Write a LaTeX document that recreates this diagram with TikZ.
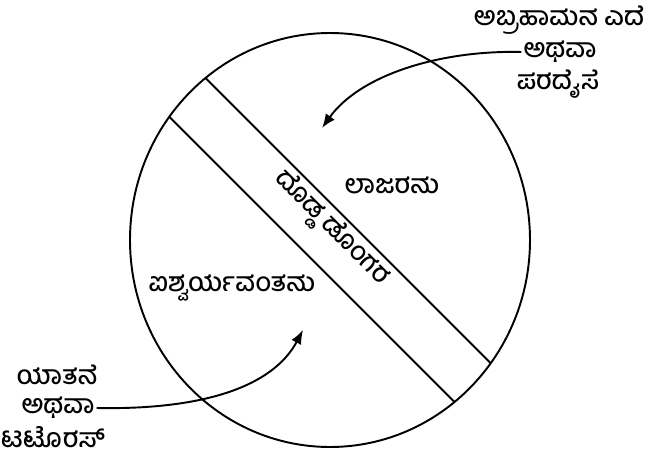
\documentclass[tikz,border=0pt]{standalone}
\usepackage{fontspec}
\newfontfamily\kannada[Script=Kannada]{Hind Mysuru Medium}
\usetikzlibrary{positioning,calc,arrows.meta}

\begin{document}
\begin{tikzpicture}[x=0.02cm, y=-0.02cm, >={Latex[length=2.8mm,width=2.2mm]},
  font=\kannada\fontsize{15}{18}\selectfont,
  outline/.style={line width=1.1pt},
  sidelabel/.style={inner sep=1pt, align=center},
  regionlabel/.style={inner sep=1pt}]
\useasboundingbox (0,0) rectangle (646,453);
\coordinate (c) at (330,240);
\draw[outline] (c) ellipse [x radius=200, y radius=207];
% the band across the circle
\begin{scope}
\clip (c) ellipse [x radius=200, y radius=207];
\draw[outline] ($(c)+(-260,-297.5)$) -- ($(c)+(260,222.5)$);
\draw[outline] ($(c)+(-260,-222.5)$) -- ($(c)+(260,297.5)$);
\end{scope}
\node[regionlabel, rotate=-45] (chasm) at (331,229) {ದೊಡ್ಡ ಡೊಂಗರ};
\node[regionlabel] (lazarus) at (392,185) {ಲಾಜರನು};
\node[regionlabel] (richman) at (232,288) {ಐಶ್ವರ್ಯವಂತನು};
% upper right labels
\node[sidelabel] (bosom) at (559,20) {ಅಬ್ರಹಾಮನ ಎದೆ};
\node[sidelabel] (orup) at (560,52) {ಅಥವಾ};
\node[sidelabel] (paradise) at (558,84) {ಪರದೈಸೆ};
\coordinate (uptip) at (322,128);
\draw[->, outline] (orup.west) .. controls (440,50) and (360,75) .. (uptip);
% lower left labels
\node[sidelabel] (torment) at (57,375) {ಯಾತನೆ};
\node[sidelabel] (ordown) at (58,408) {ಅಥವಾ};
\node[sidelabel] (tartarus) at (53,437) {ಟಟೊರಸ್};
\coordinate (downtip) at (303,330);
\draw[->, outline] (ordown.east) .. controls (200,410) and (272,388) .. (downtip);
\end{tikzpicture}
\end{document}
